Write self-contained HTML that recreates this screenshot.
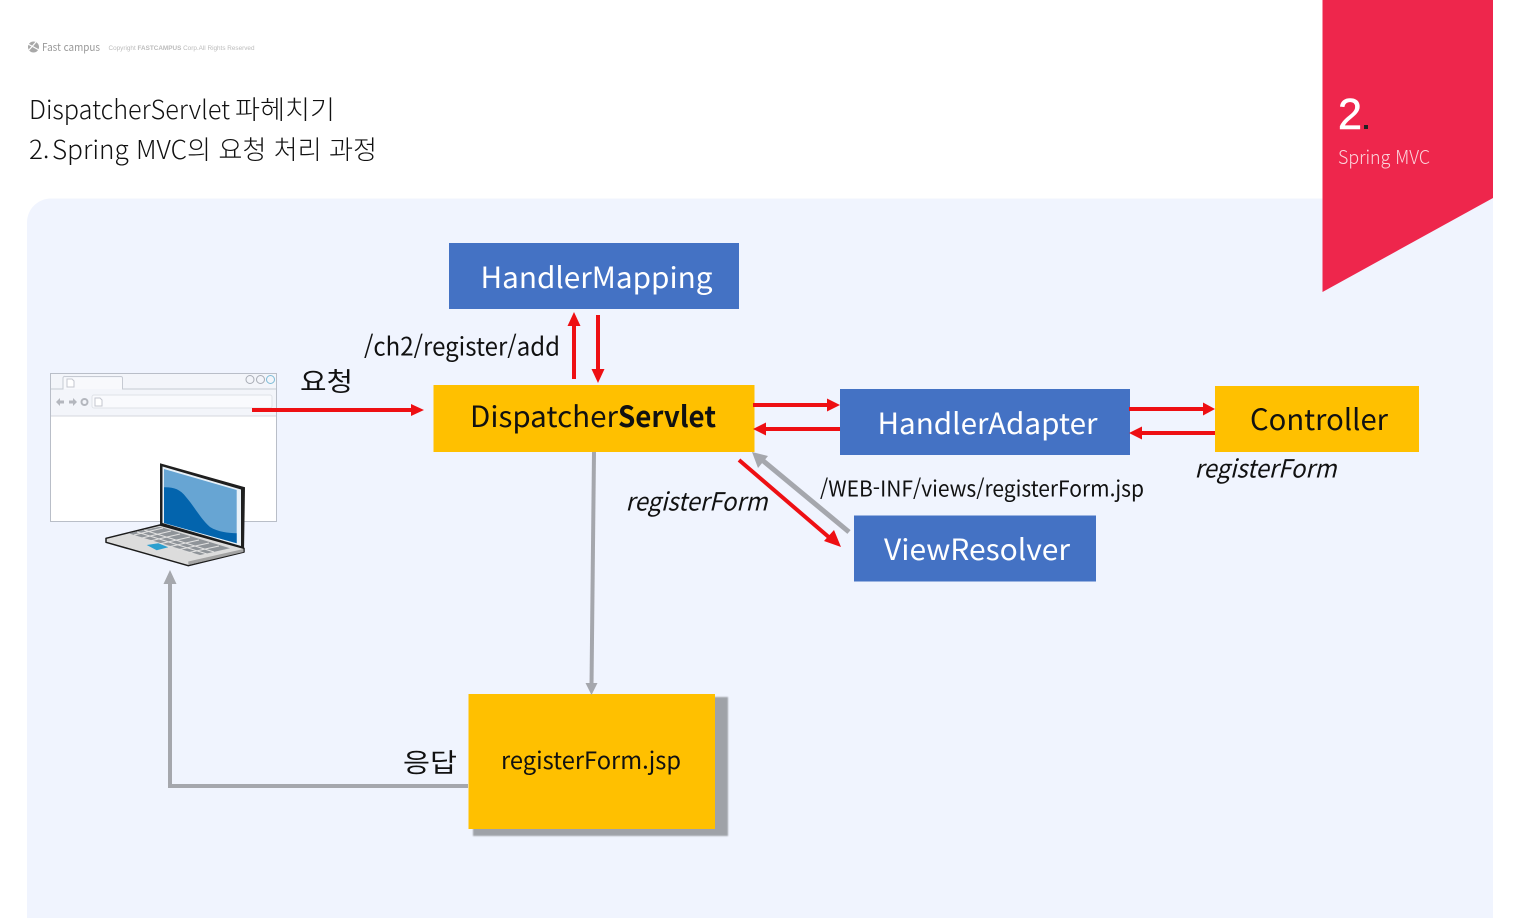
<!DOCTYPE html>
<html lang="ko"><head><meta charset="utf-8"><title>DispatcherServlet</title>
<style>html,body{margin:0;padding:0;background:#fff;width:1516px;height:918px;overflow:hidden}
svg{display:block}
text{font-family:"Noto Sans CJK KR","Liberation Sans",sans-serif}
.t{font-family:"Liberation Sans","Noto Sans CJK KR",sans-serif}
.k{font-family:"Noto Sans CJK KR","Liberation Sans",sans-serif}
</style></head><body>
<svg width="1516" height="918" viewBox="0 0 1516 918" xmlns="http://www.w3.org/2000/svg">
<defs><filter id="b" x="-5%" y="-5%" width="110%" height="110%"><feGaussianBlur stdDeviation="0.800"/></filter></defs>
<path d="M27 918V222a24 24 0 0 1 24-24H1493V918Z" fill="#f0f4fe" transform="translate(0 0.500)"/>
<path d="M1322.500 0H1493V198L1322.500 292Z" fill="#ee264c"/>
<text x="1338" y="129" class="t" font-size="44" fill="#fff" stroke="#fff" stroke-width="0.600" textLength="24" lengthAdjust="spacingAndGlyphs">2</text>
<rect x="1364" y="125" width="4" height="4" fill="#222"/>
<text x="1338" y="164" class="k" font-weight="300" font-size="19" fill="#fbd5dc" textLength="92" lengthAdjust="spacingAndGlyphs">Spring MVC</text>

<circle cx="33.500" cy="47" r="5.500" fill="#a8a8a8"/><path d="M28 44L39 50M29 50L36 42" stroke="#fff" stroke-width="1.200"/>
<text x="42" y="51" class="k" font-size="11" fill="#999" textLength="58" lengthAdjust="spacingAndGlyphs">Fast campus</text>
<text x="108.500" y="50" class="t" font-size="6.500" fill="#bbb" textLength="146" lengthAdjust="spacingAndGlyphs">Copyright <tspan font-weight="bold">FASTCAMPUS</tspan> Corp.All Rights Reserved</text>
<text x="29" y="119" class="k" font-weight="300" font-size="26" fill="#111" textLength="201" lengthAdjust="spacingAndGlyphs">DispatcherServlet</text>
<text x="235" y="119" class="k" font-size="26" fill="#111" font-weight="300" textLength="100" lengthAdjust="spacingAndGlyphs">파헤치기</text>
<text x="29" y="159" class="k" font-weight="300" font-size="26" fill="#111">2.</text>
<text x="52" y="159" class="k" font-weight="300" font-size="26" fill="#111" textLength="135" lengthAdjust="spacingAndGlyphs">Spring MVC</text>
<text x="187" y="159" class="k" font-size="26" fill="#111" font-weight="300" textLength="190" lengthAdjust="spacingAndGlyphs">의 요청 처리 과정</text>

<!-- browser -->
<rect x="50.500" y="373.500" width="226" height="148" fill="#fff" stroke="#b9bec8" stroke-width="1"/>
<rect x="51" y="374" width="225" height="42" fill="#f3f5fa"/>
<path d="M63 389V378H122V389Z" fill="#f8f9fc"/>
<path d="M51 389H63V378a1.500 1.500 0 0 1 2-1.500H121a1.500 1.500 0 0 1 1.500 1.500V389H276" fill="none" stroke="#c6cad2"/>
<path d="M51 416H276" stroke="#d4d7de"/>
<rect x="92" y="395" width="180" height="13" rx="2" fill="#f9fafd" stroke="#dfe2e8"/>
<path d="M67 379h5l2 2v6h-7Z M95 398h5l2 2v6h-7Z" fill="#fff" stroke="#c4c7cf"/>
<path d="M56 402l4-4v2.500h4v3h-4v2.500Z M77 402l-4-4v2.500h-4v3h4v2.500Z" fill="#b4b7be"/>
<circle cx="84.500" cy="402" r="3" fill="none" stroke="#b4b7be" stroke-width="2"/>
<g fill="none" stroke-width="1"><circle cx="250" cy="379.500" r="4" stroke="#a9adb6"/><circle cx="260.500" cy="379.500" r="4" stroke="#a9adb6"/><circle cx="270.500" cy="379.500" r="4" stroke="#7fbdd8"/></g>

<!-- laptop -->
<path d="M160 463.300L245 487.300L244 552L160 526Z" fill="#1f1f1f"/>
<path d="M162.500 466.500L241 489.500V546L162.500 523Z" fill="#e8f1f8"/>
<path d="M164 469L236.700 490V543.300L164 523Z" fill="#67a5d3"/>
<path d="M164 487.300C173 487 180 489 186 497C194 506 200 518 210 527C218 532 228 533 236.700 533.300V543.300L164 523Z" fill="#0364ad"/>
<path d="M106 538.300L160 525L244 548.300V552L188.300 565.700L106 542.300Z" fill="#dcdcdc" stroke="#1b1b1b" stroke-width="1.500" stroke-linejoin="round"/>
<path d="M188.300 561.500L243.500 549V552L188.300 565Z" fill="#a3a3a3"/>
<path d="M128.300 533.300L160 526.700L230 548.300L200 555Z" fill="#8f9499"/>
<g stroke="#e2e2e2" stroke-width="1"><path d="M134 535L163 528M142 538L171 531M150 541L180 534M159 544L190 537M168 547L199 540M177 550L209 543M187 553L219 546"/><path d="M144 530L214 552M137 532L207 554"/></g>
<path d="M146.700 545L158.300 543.300L168.300 547.300L156.700 550.300Z" fill="#2b9fcf"/>

<!-- boxes -->
<rect x="449" y="243" width="290" height="66" fill="#4472c4"/>
<rect x="433.500" y="385" width="321" height="67" fill="#ffc000"/>
<rect x="840" y="389" width="290" height="66" fill="#4472c4"/>
<rect x="1215" y="386" width="204" height="66" fill="#ffc000"/>
<rect x="854" y="515.500" width="242" height="66" fill="#4472c4"/>
<rect x="473" y="697" width="255" height="139" fill="#9fa2a8" filter="url(#b)"/>
<rect x="468.500" y="694" width="246.500" height="135" fill="#ffc000"/>

<!-- arrows -->
<g fill="none" stroke="#ee0f13" stroke-width="4">
<path d="M252 410H416M574 379V323M598 315V372M753 405H831M840 429H762M1129 409H1206M1215 433H1139M739 460L831 539"/>
</g>
<g fill="#ee0f13">
<path d="M424 410L411 404V416Z M574 312L567.500 326H580.500Z M598 383L591.500 369H604.500Z M840 405L827 398.500V411.500Z M753 429L766 422.500V435.500Z M1215 409L1203 402.500V415.500Z M1129 433L1142 426.500V439.500Z M841 547L824 541L834 530Z"/>
</g>
<g fill="none" stroke="#a5a7ad" stroke-width="4">
<path d="M594 452L591.500 686"/>
<path d="M468 786H170V582"/>
<path d="M849 532L761 459" stroke-width="5"/>
</g>
<g fill="#a5a7ad">
<path d="M591.500 695L585.500 683H597.500Z M170 570L163.500 584H176.500Z M752 452L768 456L758 468Z"/>
</g>

<!-- labels -->
<g fill="#fff" font-size="29">
<text x="480.500" y="288" textLength="232" lengthAdjust="spacingAndGlyphs">HandlerMapping</text>
<text x="877.500" y="434" textLength="220" lengthAdjust="spacingAndGlyphs">HandlerAdapter</text>
<text x="884" y="560" textLength="186" lengthAdjust="spacingAndGlyphs">ViewResolver</text>
</g>
<text x="470" y="427" font-size="29" fill="#111" textLength="148" lengthAdjust="spacingAndGlyphs">Dispatcher</text>
<text x="618" y="427" font-size="29" font-weight="bold" fill="#111" textLength="98" lengthAdjust="spacingAndGlyphs">Servlet</text>
<text x="1250" y="430" font-size="29" fill="#111" textLength="138" lengthAdjust="spacingAndGlyphs">Controller</text>
<text x="501" y="769" font-size="24" fill="#111" textLength="180" lengthAdjust="spacingAndGlyphs">registerForm.jsp</text>
<text x="364" y="355.500" font-size="25" fill="#111" textLength="196" lengthAdjust="spacingAndGlyphs">/ch2/register/add</text>
<text x="820" y="496.500" font-size="22" fill="#111" textLength="324" lengthAdjust="spacingAndGlyphs">/WEB-INF/views/registerForm.jsp</text>
<text x="625.500" y="510.500" font-size="25" font-style="italic" fill="#111" textLength="142" lengthAdjust="spacingAndGlyphs">registerForm</text>
<text x="1194.500" y="477.500" font-size="25" font-style="italic" fill="#111" textLength="142" lengthAdjust="spacingAndGlyphs">registerForm</text>
<text x="300" y="391" class="k" font-size="26" fill="#111" textLength="53" lengthAdjust="spacingAndGlyphs">요청</text>
<text x="403" y="772" class="k" font-size="26" fill="#111" textLength="54" lengthAdjust="spacingAndGlyphs">응답</text>
</svg>
</body></html>
